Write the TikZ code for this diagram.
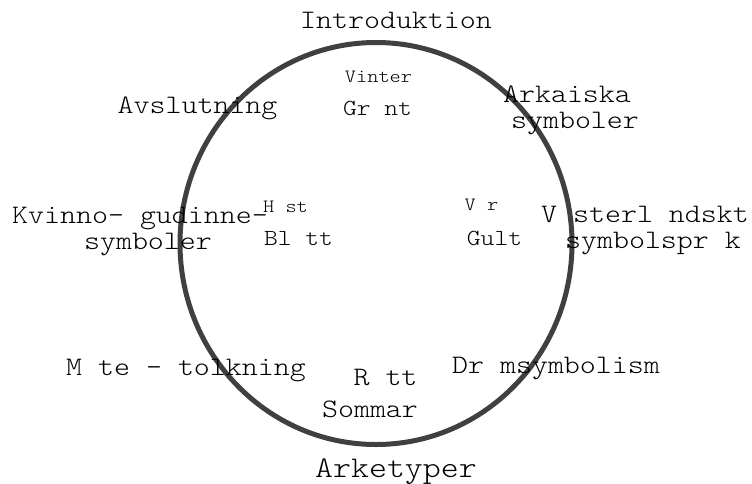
\documentclass[tikz,border=0pt]{standalone}
\usepackage{fontspec}
\setmonofont{Latin Modern Mono Light}[FakeStretch=1.14]

\begin{document}
\begin{tikzpicture}[x=1pt, y=-1pt,
  lbl/.style={font=\ttfamily\fontsize{26.7}{26}\selectfont, inner sep=0pt, anchor=base, align=center},
  sm/.style={lbl, font=\ttfamily\fontsize{18.7}{20}\selectfont},
  col/.style={lbl, font=\ttfamily\fontsize{23}{24}\selectfont},
  big/.style={lbl, font=\ttfamily\fontsize{30}{30}\selectfont},
  ring/.style={draw=black!75, line width=5pt}]
  \useasboundingbox (0,0) rectangle (752,483);
  % ---- the ring itself
  \draw[ring] (376,243.5) ellipse [x radius=196pt, y radius=201pt];
  % ---- top: the start and winter
  \node[lbl] (intro)   at (396,28)    {Introduktion};
  \node[sm]  (vinter)  at (378.5,82)  {Vinter};
  \node[col] (gront)   at (377.5,115) {Gr nt};
  \node[lbl] (avsl)    at (197.5,113) {Avslutning};
  \node[lbl] (arkaisk) at (575,128)   {Arkaiska\hphantom{x}\\symboler};
  % ---- left and right: autumn and spring
  \node[lbl] (kvinno)  at (148,249)   {Kvinno- gudinne-\hphantom{x}\\symboler};
  \node[sm]  (host)    at (285.5,212) {H st};
  \node[col] (blatt)   at (298.5,245) {Bl tt};
  \node[sm]  (var)     at (481.5,210) {V r};
  \node[col] (gult)    at (494.5,245) {Gult};
  \node[lbl] (vaster)  at (653,248)   {V sterl ndskt\hphantom{x}\\symbolspr k};
  % ---- bottom: summer and the archetypes
  \node[lbl] (mote)    at (186,375)   {M te - tolkning};
  \node[lbl] (rott)    at (385.5,385) {R tt};
  \node[lbl] (sommar)  at (370,417)   {Sommar};
  \node[lbl] (drom)    at (556,373)   {Dr msymbolism};
  \node[big] (arke)    at (396,477)   {Arketyper};
\end{tikzpicture}
\end{document}
